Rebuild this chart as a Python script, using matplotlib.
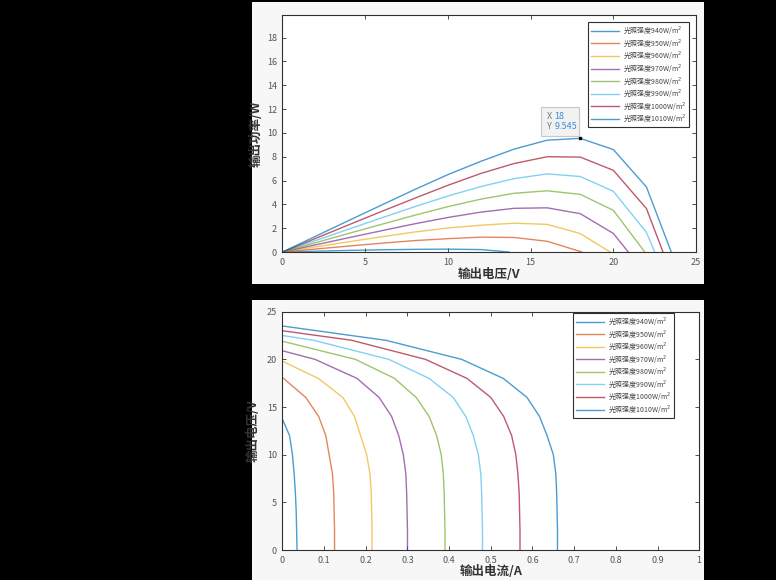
import matplotlib
matplotlib.use("Agg")
import matplotlib.pyplot as plt
from matplotlib.patches import Rectangle

plt.rcParams['font.family'] = ['Noto Sans CJK SC', 'DejaVu Sans']
plt.rcParams['mathtext.fontset'] = 'dejavusans'

# irradiance levels (W/m^2)
levels = [940, 950, 960, 970, 980, 990, 1000, 1010]
labels = ['光照强度%dW/m$^2$' % g for g in levels]

# voltage points of each curve (V)
volt = [
    [0, 2, 4, 6, 8, 10, 12, 13.7],
    [0, 2, 4, 6, 8, 10, 12, 14, 16, 18.1],
    [0, 2, 4, 6, 8, 10, 12, 14, 16, 18, 19.8],
    [0, 2, 4, 6, 8, 10, 12, 14, 16, 18, 20, 20.9],
    [0, 2, 4, 6, 8, 10, 12, 14, 16, 18, 20, 21.9],
    [0, 2, 4, 6, 8, 10, 12, 14, 16, 18, 20, 22, 22.5],
    [0, 2, 4, 6, 8, 10, 12, 14, 16, 18, 20, 22, 23.0],
    [0, 2, 4, 6, 8, 10, 12, 14, 16, 18, 20, 22, 23.5],
]
# output current at those voltages (A)
curr = [
    [.035, .034, .033, .031, .028, .024, .017, 0],
    [.125, .125, .124, .123, .120, .112, .104, .087, .056, 0],
    [.215, .215, .214, .213, .210, .202, .1875, .173, .145, .086, 0],
    [.300, .300, .299, .298, .296, .290, .279, .262, .232, .179, .078, 0],
    [.390, .390, .389, .388, .386, .381, .370, .352, .321, .269, .175, 0],
    [.480, .480, .479, .478, .476, .470, .458, .440, .410, .352, .255, .075, 0],
    [.570, .570, .569, .568, .565, .560, .550, .531, .500, .443, .343, .166, 0],
    [.660, .660, .659, .658, .656, .650, .635, .617, .587, .530, .430, .248, 0],
]
# output power at those voltages (W)
power = [
    [0, .068, .132, .186, .224, .24, .204, 0],
    [0, .25, .50, .74, .96, 1.12, 1.25, 1.22, .90, 0],
    [0, .43, .86, 1.28, 1.68, 2.02, 2.25, 2.42, 2.32, 1.55, 0],
    [0, .60, 1.20, 1.79, 2.37, 2.90, 3.35, 3.67, 3.71, 3.22, 1.56, 0],
    [0, .78, 1.56, 2.33, 3.09, 3.81, 4.44, 4.93, 5.14, 4.84, 3.50, 0],
    [0, .96, 1.92, 2.87, 3.81, 4.70, 5.50, 6.16, 6.56, 6.34, 5.10, 1.65, 0],
    [0, 1.14, 2.28, 3.41, 4.52, 5.60, 6.60, 7.43, 8.00, 7.97, 6.86, 3.65, 0],
    [0, 1.32, 2.64, 3.95, 5.25, 6.50, 7.62, 8.64, 9.39, 9.545, 8.60, 5.46, 0],
]

colors = ['#0072BD', '#D95319', '#EDB120', '#7E2F8E', '#77AC30', '#4DBEEE', '#A2142F', '#0072BD']
tip_x, tip_y = 18, 9.545

fig = plt.figure(figsize=(7.76, 5.8), dpi=100)
fig.patch.set_facecolor('black')

# white panels behind each plot
fig.add_artist(Rectangle((0.3247, 0.5103), 0.5825, 0.486, transform=fig.transFigure,
                         facecolor='#f7f7f7', edgecolor='none', zorder=0))
fig.add_artist(Rectangle((0.3247, 0.0), 0.5825, 0.4828, transform=fig.transFigure,
                         facecolor='#f7f7f7', edgecolor='none', zorder=0))

ax1 = fig.add_axes([0.364, 0.5655, 0.533, 0.4086])
ax2 = fig.add_axes([0.364, 0.0517, 0.537, 0.4109])


def style(ax):
    ax.set_facecolor('white')
    for s in ax.spines.values():
        s.set_color('#303030')
        s.set_linewidth(0.8)
    ax.tick_params(direction='in', length=3, width=0.6, top=True, right=True,
                   labelsize=6.5, labelcolor='#555555', color='#303030', pad=4)


def legend(ax, anchor):
    leg = ax.legend(loc='upper right', bbox_to_anchor=anchor, borderaxespad=0,
                    fontsize=5.0, handlelength=4.0, handletextpad=0.6, labelspacing=0.22,
                    frameon=True, fancybox=False, edgecolor='#303030', framealpha=1,
                    borderpad=0.45)
    leg.get_frame().set_linewidth(0.8)
    for t in leg.get_texts():
        t.set_color('#444444')


for v, p, c, lab in zip(volt, power, colors, labels):
    ax1.plot(v, p, color=c, lw=1.0, alpha=0.7, label=lab)
ax1.set_xlim(0, 25)
ax1.set_ylim(0, 19.9)
ax1.set_xticks(range(0, 26, 5))
ax1.set_yticks(range(0, 19, 2))
style(ax1)
ax1.set_xlabel('输出电压/V', fontsize=9, fontweight='bold', color='#333333', labelpad=1)
ax1.set_ylabel('输出功率/W', fontsize=9, fontweight='bold', color='#333333', labelpad=3)
legend(ax1, (0.983, 0.970))

# data tip
ax1.plot([tip_x], [tip_y], 's', color='black', ms=2)
ax1.add_patch(Rectangle((15.6, 9.75), 2.35, 2.45, facecolor='#f2f2f2', edgecolor='#c8c8c8', lw=0.8))
ax1.text(16.0, 11.4, 'X', fontsize=6.5, color='#777777', va='center')
ax1.text(16.45, 11.4, '%g' % tip_x, fontsize=6.5, color='#3d8fd6', va='center')
ax1.text(16.0, 10.5, 'Y', fontsize=6.5, color='#777777', va='center')
ax1.text(16.45, 10.5, '%g' % tip_y, fontsize=6.5, color='#3d8fd6', va='center')

for v, i, c, lab in zip(volt, curr, colors, labels):
    ax2.plot(i, v, color=c, lw=1.0, alpha=0.7, label=lab)
ax2.set_xlim(0, 1)
ax2.set_ylim(0, 25)
ax2.set_xticks([k / 10 for k in range(11)])
ax2.set_xticklabels(['0', '0.1', '0.2', '0.3', '0.4', '0.5', '0.6', '0.7', '0.8', '0.9', '1'])
ax2.set_yticks(range(0, 26, 5))
style(ax2)
ax2.set_xlabel('输出电流/A', fontsize=9, fontweight='bold', color='#333333', labelpad=0)
ax2.set_ylabel('输出电压/V', fontsize=9, fontweight='bold', color='#333333', labelpad=5)
legend(ax2, (0.940, 0.995))

fig.savefig('out.png', dpi=100, facecolor=fig.get_facecolor())
